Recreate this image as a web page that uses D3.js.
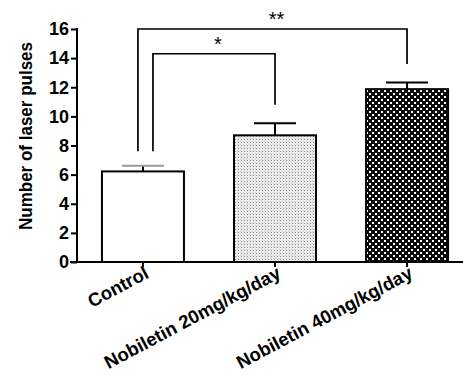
<!DOCTYPE html>
<html><head><meta charset="utf-8">
<script src="https://cdn.jsdelivr.net/npm/d3@7"></script>
<style>body{margin:0;background:#fff}svg{display:block}</style>
</head><body>
<script>
const categories = ["Control", "Nobiletin 20mg/kg/day", "Nobiletin 40mg/kg/day"];
const means = [6.22, 8.7, 11.87];
const errors = [0.39, 0.82, 0.46];
const yTicks = [0, 2, 4, 6, 8, 10, 12, 14, 16];
const yLabel = "Number of laser pulses";
// significance brackets
const bracketFrom = [0, 0];
const bracketTo = [1, 2];
const bracketTop = [14.3, 16];
const bracketLeftEnd = [7.6, 7.6];
const bracketRightEnd = [10.8, 13.6];
const bracketLabels = ["*", "**"];

const W = 463, H = 374;
const svg = d3.select("body").append("svg").attr("width", W).attr("height", H);
const font = "'Liberation Sans', Arial, sans-serif";

const defs = svg.append("defs");
const p1 = defs.append("pattern").attr("id", "pLight").attr("patternUnits", "userSpaceOnUse").attr("width", 3).attr("height", 3);
p1.append("rect").attr("width", 3).attr("height", 3).attr("fill", "#ececec");
p1.append("rect").attr("x", 1).attr("y", 1).attr("width", 1).attr("height", 1).attr("fill", "#8a8a8a");
p1.append("rect").attr("x", 0).attr("y", 0).attr("width", 1).attr("height", 1).attr("fill", "#d0d0d0");
const p2 = defs.append("pattern").attr("id", "pDark").attr("patternUnits", "userSpaceOnUse").attr("width", 6).attr("height", 6);
p2.append("rect").attr("width", 6).attr("height", 6).attr("fill", "#0a0a0a");
p2.append("rect").attr("x", 0).attr("y", 0).attr("width", 2).attr("height", 2).attr("fill", "#fff");
p2.append("rect").attr("x", 3).attr("y", 3).attr("width", 2).attr("height", 2).attr("fill", "#fff");
const fills = ["#fff", "url(#pLight)", "url(#pDark)"];

const x0 = 77, yBase = 262, yTop = 29;
const x = d3.scaleBand().domain(categories).range([x0, 473]).paddingInner(0.379).paddingOuter(0.189);
const y = d3.scaleLinear().domain([0, 16]).range([yBase, yTop]);
const cx = c => x(c) + x.bandwidth() / 2;

// bars
svg.append("g").selectAll("rect").data(categories).join("rect")
  .attr("x", d => x(d)).attr("y", (d, i) => y(means[i]))
  .attr("width", x.bandwidth()).attr("height", (d, i) => y(0) - y(means[i]))
  .attr("fill", (d, i) => fills[i]).attr("stroke", "#000").attr("stroke-width", 2);

// error bars
const eb = svg.append("g").attr("stroke-width", 2);
categories.forEach((c, i) => {
  const col = i === 0 ? "#999" : "#000";
  eb.append("line").attr("x1", cx(c)).attr("x2", cx(c)).attr("y1", y(means[i])).attr("y2", y(means[i] + errors[i])).attr("stroke", "#000");
  eb.append("line").attr("x1", cx(c) - 21).attr("x2", cx(c) + 21).attr("y1", y(means[i] + errors[i])).attr("y2", y(means[i] + errors[i])).attr("stroke", col);
});

// y axis
const yAxis = svg.append("g").attr("transform", `translate(${x0},0)`)
  .call(d3.axisLeft(y).tickValues(yTicks).tickSize(6).tickPadding(2));
yAxis.select(".domain").remove();
yAxis.selectAll(".tick line").attr("stroke-width", 2);
yAxis.selectAll(".tick text").attr("font-family", font).attr("font-weight", "bold").attr("font-size", 18).attr("fill", "#000");
svg.append("line").attr("x1", x0).attr("x2", x0).attr("y1", yTop - 1).attr("y2", yBase + 1).attr("stroke", "#000").attr("stroke-width", 2);

// x axis
const xAxis = svg.append("g").attr("transform", `translate(0,${yBase})`)
  .call(d3.axisBottom(x).tickSize(5).tickFormat(""));
xAxis.select(".domain").remove();
xAxis.selectAll(".tick line").attr("stroke-width", 2);
svg.append("line").attr("x1", x0 - 7).attr("x2", W).attr("y1", yBase).attr("y2", yBase).attr("stroke", "#000").attr("stroke-width", 2);

// category labels
svg.append("g").selectAll("text").data(categories).join("text")
  .attr("transform", d => `translate(${cx(d) + 7},${yBase + 15}) rotate(-28)`)
  .attr("text-anchor", "end").attr("font-family", font).attr("font-weight", "bold").attr("font-size", 18.5)
  .text(d => d);

// y label
svg.append("text").attr("transform", `translate(32,136) rotate(-90)`)
  .attr("text-anchor", "middle").attr("font-family", font).attr("font-weight", "bold").attr("font-size", 18)
  .attr("textLength", 188).attr("lengthAdjust", "spacingAndGlyphs")
  .text(yLabel);

// brackets
const br = svg.append("g").attr("fill", "none").attr("stroke", "#000").attr("stroke-width", 1.7);
bracketFrom.forEach((f, k) => {
  const xl = cx(categories[f]) + (k === 0 ? 10 : -5);
  const xr = cx(categories[bracketTo[k]]);
  br.append("path").attr("d", `M${xl},${y(bracketLeftEnd[k])}V${y(bracketTop[k])}H${xr}V${y(bracketRightEnd[k])}`);
  svg.append("text").attr("x", (xl + xr) / 2 + 4).attr("y", y(bracketTop[k]) - 3)
    .attr("text-anchor", "middle").attr("font-family", font).attr("font-size", 20).text(bracketLabels[k]);
});
</script>
</body></html>
